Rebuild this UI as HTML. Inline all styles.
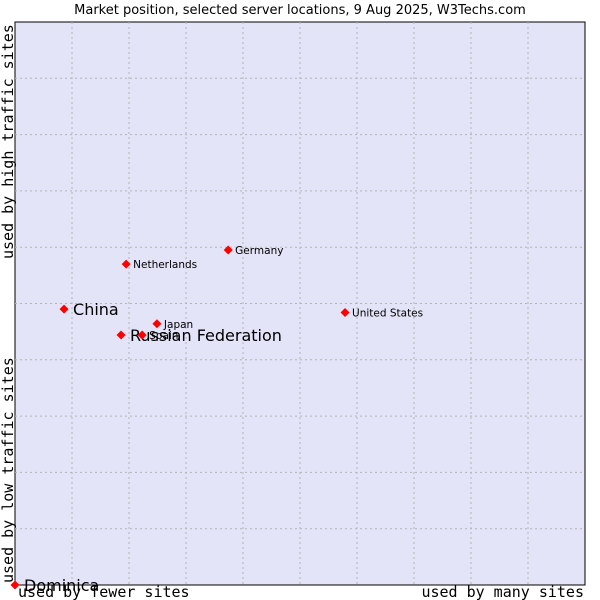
<!DOCTYPE html>
<html><head><meta charset="utf-8"><style>
body{margin:0;background:#fff;}
svg{display:block;}
</style></head><body>
<svg id="c" width="600" height="600" xmlns="http://www.w3.org/2000/svg">
<text x="300" y="14" text-anchor="middle" font-family="DejaVu Sans, sans-serif" font-size="13" fill="#000">Market position, selected server locations, 9 Aug 2025, W3Techs.com</text>
<rect x="15" y="22" width="570" height="563" fill="#e3e4f7" stroke="#000"/>
<g id="grid"></g>
<text x="18" y="597" font-family="DejaVu Sans Mono, monospace" font-size="15">used by fewer sites</text>
<text x="584" y="597" text-anchor="end" font-family="DejaVu Sans Mono, monospace" font-size="15">used by many sites</text>
<text transform="translate(13,583) rotate(-90)" font-family="DejaVu Sans Mono, monospace" font-size="15">used by low traffic sites</text>
<text transform="translate(13,259) rotate(-90)" font-family="DejaVu Sans Mono, monospace" font-size="15">used by high traffic sites</text>
<g id="pts"></g>
</svg>
<script>
const names=["China","Russian Federation","Spain","Japan","Netherlands","Germany","United States","Dominica"];
const xs=[8.6,18.6,22.3,24.9,19.5,37.4,57.9,0];
const ys=[49.0,44.4,44.4,46.4,57.0,59.5,48.4,0];
const big=[1,1,0,0,0,0,0,1];
const NS="http://www.w3.org/2000/svg";
const L=15,T=22,W=570,H=563;
const sx=v=>L+v/100*W, sy=v=>T+H-v/100*H;
const g=document.getElementById('grid');
for(let i=1;i<10;i++){
 const a=document.createElementNS(NS,'line');
 a.setAttribute('x1',sx(i*10));a.setAttribute('x2',sx(i*10));a.setAttribute('y1',T);a.setAttribute('y2',T+H);
 a.setAttribute('stroke','#b4b4b4');a.setAttribute('stroke-dasharray','2,3');
 
 
 g.appendChild(a);
 const b=document.createElementNS(NS,'line');
 b.setAttribute('y1',sy(i*10));b.setAttribute('y2',sy(i*10));b.setAttribute('x1',L);b.setAttribute('x2',L+W);
 b.setAttribute('stroke','#b4b4b4');b.setAttribute('stroke-dasharray','2,3');
 
 
 g.appendChild(b);
}
const p=document.getElementById('pts');
names.forEach((n,i)=>{
 const x=sx(xs[i]),y=sy(ys[i]);
 const d=document.createElementNS(NS,'path');
 d.setAttribute('d',`M${x} ${y-4.5}L${x+4.5} ${y}L${x} ${y+4.5}L${x-4.5} ${y}Z`);
 d.setAttribute('fill','#f00');
 
 
 p.appendChild(d);
 const t=document.createElementNS(NS,'text');
 t.setAttribute('x',x+(big[i]?9:7));t.setAttribute('y',y+(big[i]?6:4));
 t.setAttribute('font-family','DejaVu Sans, sans-serif');
 t.setAttribute('font-size',big[i]?16:10.5);
 t.textContent=n;
 
 
 p.appendChild(t);
});
</script>
</body></html>
